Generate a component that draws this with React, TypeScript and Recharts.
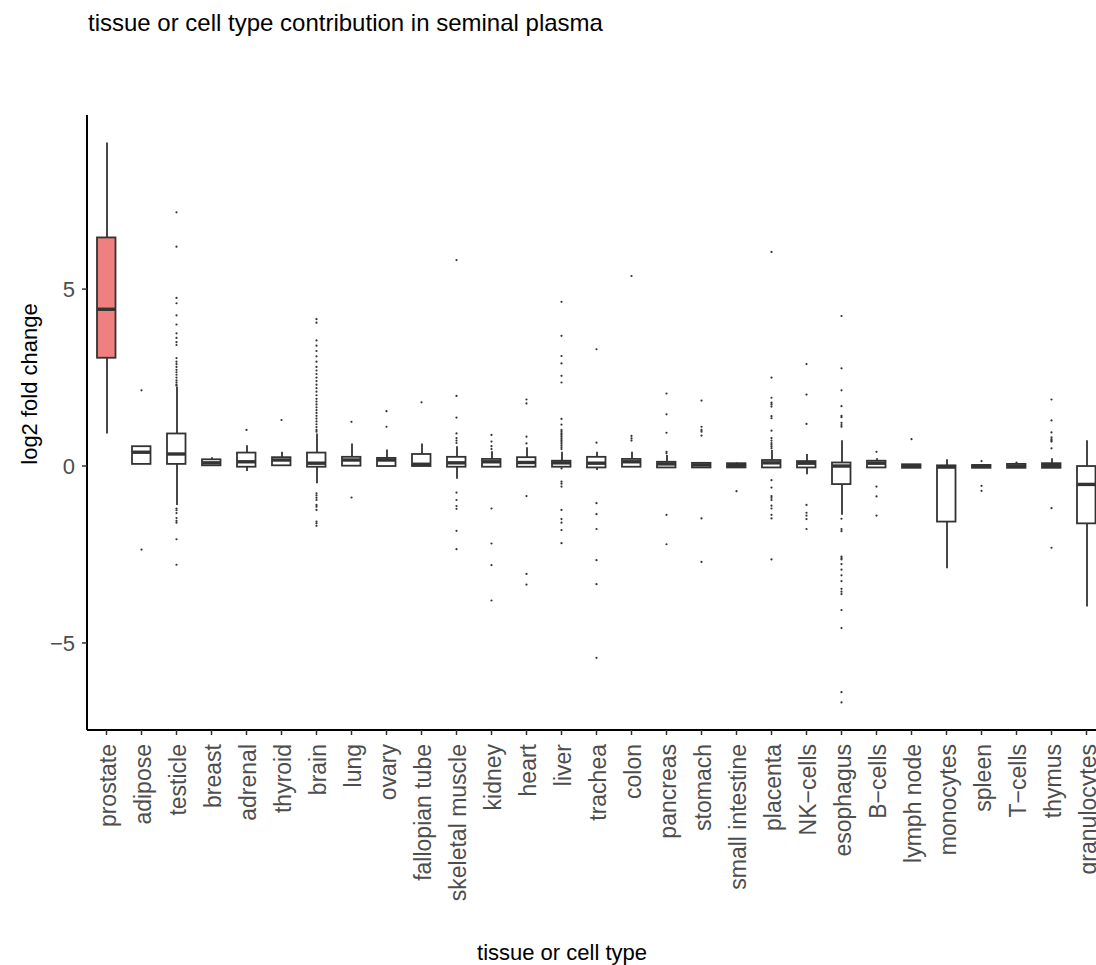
import React from "react";
import { ComposedChart, Bar, Scatter, XAxis, YAxis } from "recharts";

const categories = [
  "prostate", "adipose", "testicle", "breast", "adrenal", "thyroid", "brain", "lung",
  "ovary", "fallopian tube", "skeletal muscle", "kidney", "heart", "liver", "trachea",
  "colon", "pancreas", "stomach", "small intestine", "placenta", "NK\u2212cells",
  "esophagus", "B\u2212cells", "lymph node", "monocytes", "spleen", "T\u2212cells",
  "thymus", "granulocytes",
];

const whiskerLow = [0.92, 0.06, -1.1, 0.02, -0.14, 0.02, -0.49, 0.01, 0.0, 0.0, -0.36, -0.02, -0.02, -0.04, -0.11, -0.02, -0.04, -0.04, -0.04, -0.04, -0.23, -1.38, -0.04, -0.05, -2.89, -0.05, -0.05, -0.05, -3.97];
const q1 = [3.06, 0.06, 0.06, 0.02, -0.02, 0.02, -0.02, 0.01, 0.0, 0.0, -0.02, -0.02, -0.02, -0.02, -0.04, -0.02, -0.04, -0.04, -0.04, -0.04, -0.04, -0.51, -0.04, -0.05, -1.57, -0.05, -0.05, -0.05, -1.62];
const median = [4.43, 0.39, 0.34, 0.09, 0.12, 0.17, 0.08, 0.17, 0.17, 0.05, 0.09, 0.12, 0.1, 0.09, 0.08, 0.12, 0.06, 0.03, 0.02, 0.09, 0.08, 0.0, 0.08, 0.0, -0.03, 0.0, 0.0, 0.02, -0.52];
const q3 = [6.46, 0.56, 0.92, 0.19, 0.38, 0.25, 0.38, 0.26, 0.23, 0.34, 0.26, 0.2, 0.25, 0.15, 0.26, 0.2, 0.12, 0.09, 0.08, 0.17, 0.14, 0.1, 0.15, 0.05, 0.02, 0.03, 0.06, 0.08, 0.0];
const whiskerHigh = [9.14, 0.56, 2.24, 0.25, 0.59, 0.4, 0.92, 0.64, 0.47, 0.64, 0.56, 0.42, 0.53, 0.4, 0.4, 0.4, 0.31, 0.09, 0.1, 0.45, 0.34, 0.73, 0.22, 0.05, 0.19, 0.03, 0.06, 0.22, 0.73];

const outliers: number[][] = [
  [],
  [2.14, -2.36],
  [7.17, 6.2, 4.75, 4.6, 4.26, 4.0, 3.75, 3.62, 3.5, 3.42, 3.05, 2.95, 2.88, 2.8, 2.72, 2.65, 2.58, 2.5, 2.42, 2.36, 2.3, 2.27, -1.2, -1.25, -1.33, -1.47, -1.55, -1.6, -2.07, -2.79],
  [],
  [1.02],
  [1.3],
  [4.15, 4.05, 3.55, 3.4, 3.25, 3.1, 2.95, 2.8, 2.7, 2.6, 2.5, 2.4, 2.3, 2.2, 2.1, 2.0, 1.9, 1.82, 1.74, 1.66, 1.58, 1.5, 1.42, 1.34, 1.26, 1.18, 1.1, 1.02, 0.97, -0.77, -0.83, -0.9, -0.96, -1.1, -1.15, -1.24, -1.57, -1.62, -1.69],
  [1.25, -0.89],
  [1.55, 1.11],
  [1.8],
  [5.82, 1.98, 1.37, 0.92, 0.79, 0.72, 0.65, -0.75, -0.96, -1.13, -1.21, -1.83, -2.35],
  [0.88, 0.69, 0.56, 0.48, -1.2, -2.19, -2.8, -3.8],
  [1.88, 1.77, 0.83, 0.64, -0.85, -3.05, -3.35],
  [4.64, 3.68, 3.11, 2.9, 2.55, 2.36, 1.33, 1.17, 1.02, 0.97, 0.92, 0.88, 0.83, 0.78, 0.73, 0.68, 0.63, 0.58, 0.53, 0.48, -0.07, -0.44, -0.5, -0.58, -1.24, -1.5, -1.6, -1.81, -2.18],
  [3.3, 0.66, -1.05, -1.36, -1.78, -2.66, -3.34, -5.42],
  [5.37, 0.85, 0.78, 0.72],
  [2.05, 1.46, 0.94, 0.4, 0.36, -1.38, -2.21],
  [1.85, 1.11, 1.02, 0.97, 0.86, -1.48, -2.71],
  [-0.71],
  [6.05, 2.5, 1.93, 1.79, 1.74, 1.68, 1.41, 1.35, 1.0, 0.79, 0.72, 0.65, 0.6, 0.55, 0.5, -0.4, -0.61, -0.85, -0.9, -0.96, -1.12, -1.2, -1.38, -1.48, -2.64],
  [2.88, 2.02, 1.19, -1.1, -1.32, -1.4, -1.5, -1.78],
  [4.24, 2.76, 2.14, 1.69, 1.42, 1.38, 1.22, 1.16, 1.11, -1.49, -1.78, -1.84, -2.56, -2.6, -2.64, -2.77, -2.93, -3.09, -3.25, -3.47, -3.55, -3.62, -4.07, -4.58, -6.39, -6.68],
  [0.4, -0.58, -0.86, -1.4],
  [0.76],
  [],
  [0.14, -0.56, -0.7],
  [0.1],
  [1.88, 1.29, 0.95, 0.81, 0.76, 0.72, 0.69, 0.5, -1.19, -2.31],
  [],
];

const yTicks = [-5, 0, 5];

const INK = "#333333";
const BOX_W = 18.5;
const FONT = "'Liberation Sans', Arial, Helvetica, sans-serif";
const X_PAD = { left: 2, right: 2 };

const rows = categories.map((name, i) => ({
  name,
  i,
  whisker: [whiskerLow[i], whiskerHigh[i]],
  box: [q1[i], q3[i]],
  med: median[i],
  fill: i === 0 ? "#F08080" : "#FFFFFF",
}));

const outlierPoints = outliers.flatMap((vals, i) => vals.map((v) => ({ i, v })));

const WhiskerShape = (p: any) => {
  const cx = p.x + p.width / 2;
  return <line x1={cx} x2={cx} y1={p.y} y2={p.y + p.height} stroke={INK} strokeWidth={1.8} />;
};

const BoxShape = (p: any) => (
  <rect
    x={p.x}
    y={p.y}
    width={p.width}
    height={Math.max(p.height, 0.5)}
    fill={p.payload.fill}
    stroke={INK}
    strokeWidth={1.8}
  />
);

const MedianShape = (p: any) => (
  <line x1={p.cx - BOX_W / 2} x2={p.cx + BOX_W / 2} y1={p.cy} y2={p.cy} stroke={INK} strokeWidth={3.4} />
);

const Dot = (p: any) => <circle cx={p.cx} cy={p.cy} r={1.1} fill={INK} />;

const XTick = (p: any) => (
  <text
    x={p.x + 1}
    y={p.y}
    transform={`rotate(-90, ${p.x + 1}, ${p.y})`}
    textAnchor="end"
    dominantBaseline="central"
    fill="#4D4D4D"
    fontSize={23}
    fontFamily={FONT}
  >
    {p.payload.value}
  </text>
);

export default function App() {
  return (
    <div
      style={{
        position: "fixed",
        left: 0,
        top: 0,
        width: 1096,
        height: 965,
        overflow: "hidden",
        background: "#fff",
        fontFamily: FONT,
      }}
    >
      <div style={{ position: "absolute", left: 88, top: 9, fontSize: 24, color: "#000", whiteSpace: "nowrap" }}>
        tissue or cell type contribution in seminal plasma
      </div>
      <div
        style={{
          position: "absolute",
          left: 30,
          top: 384,
          transform: "translate(-50%, -50%) rotate(-90deg)",
          fontSize: 22,
          whiteSpace: "nowrap",
        }}
      >
        log2 fold change
      </div>
      <div
        style={{
          position: "absolute",
          left: 562,
          top: 953,
          transform: "translate(-50%, -50%)",
          fontSize: 22,
          whiteSpace: "nowrap",
        }}
      >
        tissue or cell type
      </div>
      <ComposedChart
        width={1120}
        height={965}
        data={rows}
        margin={{ top: 115, right: 14, left: 0, bottom: 0 }}
      >
        <XAxis
          xAxisId="cat"
          dataKey="name"
          type="category"
          interval={0}
          height={235}
          padding={X_PAD}
          tick={<XTick />}
          tickSize={5}
          tickMargin={9}
          axisLine={{ stroke: "#000", strokeWidth: 2 }}
          tickLine={{ stroke: INK, strokeWidth: 1.5 }}
        />
        <XAxis xAxisId="box" dataKey="name" type="category" padding={X_PAD} height={0} hide />
        <XAxis xAxisId="num" dataKey="i" type="number" domain={[-0.5, 28.5]} padding={X_PAD} height={0} hide />
        <YAxis
          domain={[-7.46, 9.92]}
          allowDataOverflow
          ticks={yTicks}
          width={87}
          tickSize={5}
          tickMargin={7}
          tickFormatter={(v: number) => (v < 0 ? `\u2212${-v}` : `${v}`)}
          tick={{ fill: "#4D4D4D", fontSize: 22, fontFamily: FONT }}
          axisLine={{ stroke: "#000", strokeWidth: 2 }}
          tickLine={{ stroke: INK, strokeWidth: 1.5 }}
        />
        <Bar xAxisId="cat" dataKey="whisker" barSize={4} shape={WhiskerShape} isAnimationActive={false} />
        <Bar xAxisId="box" dataKey="box" barSize={BOX_W} shape={BoxShape} isAnimationActive={false} />
        <Scatter xAxisId="box" dataKey="med" shape={MedianShape} isAnimationActive={false} />
        <Scatter xAxisId="num" data={outlierPoints} dataKey="v" shape={Dot} isAnimationActive={false} />
      </ComposedChart>
    </div>
  );
}
